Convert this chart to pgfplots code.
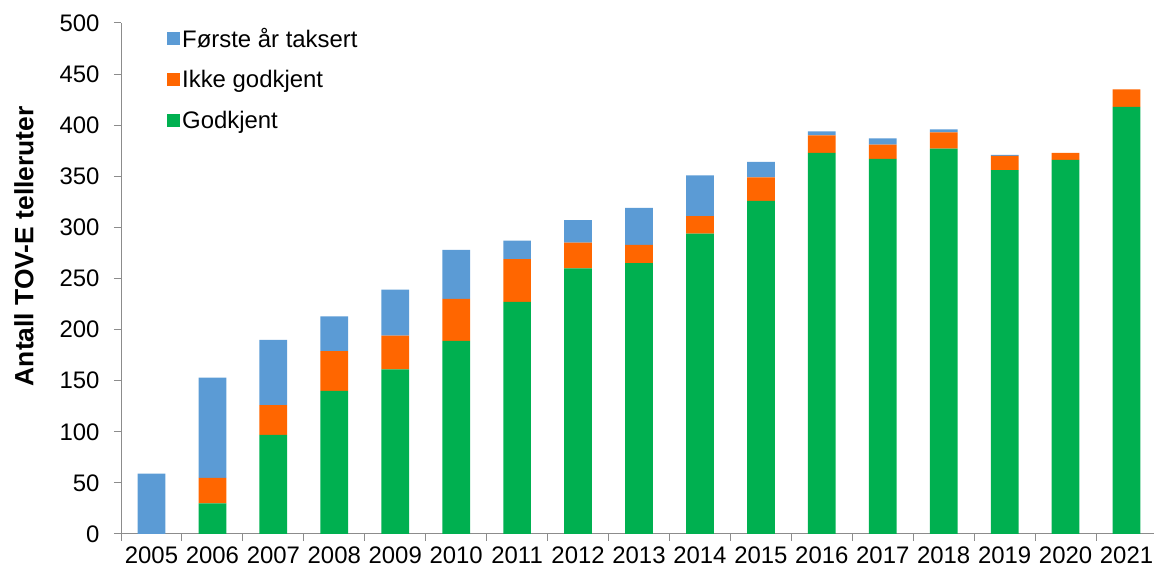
\documentclass[border=0pt]{standalone}
\usepackage{fontspec}
\setmainfont{Liberation Sans}
\usepackage{pgfplots}
\pgfplotsset{compat=1.18}
\usepackage{pgfplotstable}
\definecolor{cblue}{HTML}{5B9BD5}
\definecolor{corange}{HTML}{FF6600}
\definecolor{cgreen}{HTML}{00B050}
\definecolor{caxis}{HTML}{8C8C8C}
\pgfplotstableread{
x year godkjent ikke forste
0 2005 0 0 59
1 2006 30 25 98
2 2007 97 29 64
3 2008 140 39 34
4 2009 161 33 45
5 2010 189 41 48
6 2011 227 42 18
7 2012 260 25 22
8 2013 265 18 36
9 2014 294 17 40
10 2015 326 23 15
11 2016 373 17 4
12 2017 367 14 6
13 2018 377 16 3
14 2019 356 14 1
15 2020 366 7 0
16 2021 418 17 0
}\datatable
\begin{document}
\begin{tikzpicture}
\begin{axis}[
  scale only axis,
  width=1036bp, height=511bp,
  ybar stacked,
  bar width=0.455,
  xmin=-0.5, xmax=16.5,
  ymin=0, ymax=500,
  ytick={0,50,...,500},
  xtick={0,...,16},
  xticklabels={2005,2006,2007,2008,2009,2010,2011,2012,2013,2014,2015,2016,2017,2018,2019,2020,2021},
  minor xtick={-0.5,0.5,...,16.5},
  major x tick style={draw=none},
  tick align=outside,
  major tick length=7bp,
  minor tick length=7bp,
  axis x line*=bottom,
  axis y line*=left,
  axis line style={caxis, line width=1pt},
  every tick/.style={caxis, line width=1pt},
  minor tick style={caxis, line width=1pt},
  tick label style={font=\fontsize{24}{28}\selectfont},
  /pgf/number format/assume math mode=true,
  yticklabel style={xshift=-11bp},
  xticklabel style={yshift=-2bp},
  ylabel={Antall TOV-E telleruter},
  every axis y label/.style={at={(axis description cs:0,0.563)}, xshift=-97bp, rotate=90, anchor=center, font=\bfseries\fontsize{26.5}{30}\selectfont},
  legend style={draw=none, fill=none, at={(rel axis cs:0.0444,0.995)}, anchor=north west,
    font=\fontsize{24}{28}\selectfont, row sep=18bp, inner sep=0pt, cells={anchor=west}},
  reverse legend,
  legend image code/.code={\fill[#1] (0bp,-6.5bp) rectangle (13bp,6.5bp);},
]
\addplot[fill=cgreen, draw=none] table[x=x, y=godkjent] {\datatable};
\addplot[fill=corange, draw=none] table[x=x, y=ikke] {\datatable};
\addplot[fill=cblue, draw=none] table[x=x, y=forste] {\datatable};
\legend{Godkjent, Ikke godkjent, Første år taksert}
\end{axis}
\pgfresetboundingbox
\path[use as bounding box] ([shift={(-121bp,-38bp)}]current axis.south west) rectangle ([shift={(-3bp,23bp)}]current axis.north east);
\end{tikzpicture}
\end{document}
